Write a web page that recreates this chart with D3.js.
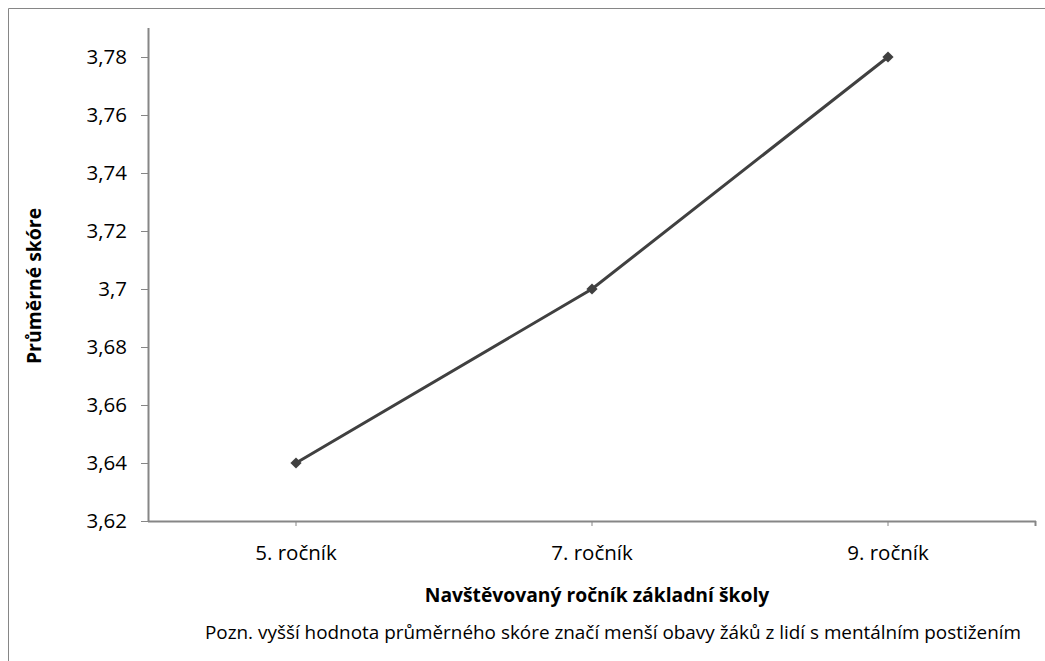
<!DOCTYPE html>
<html lang="cs">
<head>
  <meta charset="UTF-8" />
  <title>Průměrné skóre podle ročníku</title>
  <style>
    body { margin: 0; background: #fff; font-family: "Open Sans", sans-serif; }
    svg { display: block; }
  </style>
</head>
<body>
  <svg id="chart"></svg>

  <script src="https://d3js.org/d3.v7.min.js"></script>
  <script>
    const grades = ["5. ročník", "7. ročník", "9. ročník"];
    const scores = [3.64, 3.70, 3.78];
    const yTicks = [3.62, 3.64, 3.66, 3.68, 3.70, 3.72, 3.74, 3.76, 3.78];
    const yTitle = "Průměrné skóre";
    const xTitle = "Navštěvovaný ročník základní školy";
    const note = "Pozn. vyšší hodnota průměrného skóre značí menší obavy žáků z lidí s mentálním postižením";

    const W = 1045, H = 661;
    const plot = { left: 148, right: 1036, top: 28, bottom: 521 };
    const axisColor = "#868686", lineColor = "#404040";

    const svg = d3.select("#chart").attr("width", W).attr("height", H);

    // outer chart frame (only top and left edges are inside the picture)
    svg.append("path")
      .attr("d", `M8.5,${H} V8.5 H${W}`)
      .attr("fill", "none")
      .attr("stroke", axisColor)
      .attr("stroke-width", 1);

    const x = d3.scaleBand().domain(grades).range([plot.left, plot.right]);
    const y = d3.scaleLinear().domain([3.62, 3.79]).range([plot.bottom, plot.top]);
    const fmt = v => d3.format("~r")(+v.toFixed(2)).replace(".", ",");

    // y axis
    const yAxis = svg.append("g")
      .attr("transform", `translate(${plot.left},0)`)
      .call(d3.axisLeft(y).tickValues(yTicks).tickSize(7).tickPadding(14).tickFormat(fmt));
    yAxis.select(".domain").attr("d", `M0.5,${plot.top}V${plot.bottom}`);

    // x axis
    const xAxis = svg.append("g")
      .attr("transform", `translate(0,${plot.bottom})`)
      .call(d3.axisBottom(x).tickSize(5).tickPadding(19));
    xAxis.select(".domain").attr("d", `M${plot.left},0.5H${plot.right}`);
    xAxis.append("line")
      .attr("x1", plot.right - 0.5).attr("x2", plot.right - 0.5)
      .attr("y1", 0).attr("y2", 5);

    svg.selectAll(".domain, .tick line, g > line")
      .attr("stroke", axisColor).attr("stroke-width", 2);
    svg.selectAll(".tick line").attr("stroke-width", 1);
    svg.selectAll(".tick text")
      .attr("fill", "#000")
      .style("font-family", "'Open Sans', sans-serif")
      .style("font-size", "20.5px");

    // line + diamonds
    const pts = grades.map((g, i) => [x(g) + x.bandwidth() / 2, y(scores[i])]);
    svg.append("path")
      .datum(pts)
      .attr("d", d3.line())
      .attr("fill", "none")
      .attr("stroke", lineColor)
      .attr("stroke-width", 3);

    svg.append("g").selectAll("path")
      .data(pts)
      .join("path")
      .attr("transform", d => `translate(${d[0]},${d[1]})`)
      .attr("d", d3.symbol(d3.symbolDiamond2, 80))
      .attr("fill", lineColor);

    // titles
    svg.append("text")
      .attr("transform", `translate(41,286) rotate(-90)`)
      .attr("text-anchor", "middle")
      .style("font-size", "19.4px").style("font-weight", "bold")
      .text(yTitle);

    svg.append("text")
      .attr("x", 597).attr("y", 602)
      .attr("text-anchor", "middle")
      .style("font-size", "19.3px").style("font-weight", "bold")
      .text(xTitle);

    svg.append("text")
      .attr("x", 613).attr("y", 639)
      .attr("text-anchor", "middle")
      .style("font-size", "18.9px")
      .text(note);
  </script>
</body>
</html>
